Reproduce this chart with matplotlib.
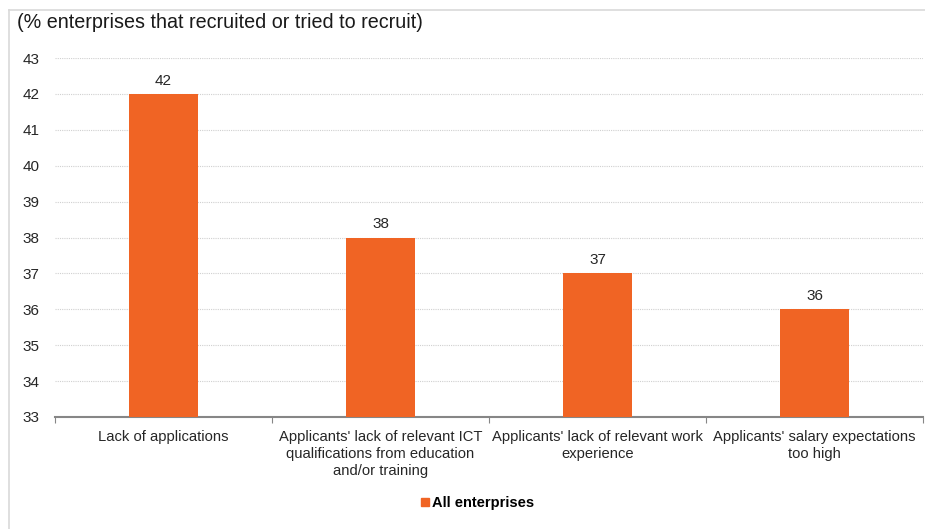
import matplotlib.pyplot as plt
import matplotlib.lines as mlines
import numpy as np

plt.rcParams['font.family'] = ['Liberation Sans', 'DejaVu Sans']

categories = ['Lack of applications',
              "Applicants' lack of relevant ICT\nqualifications from education\nand/or training",
              "Applicants' lack of relevant work\nexperience",
              "Applicants' salary expectations\ntoo high"]
values = [42, 38, 37, 36]
y_ticks = list(range(33, 44))

BAR_COLOR = '#F06424'

fig = plt.figure(figsize=(9.25, 5.29), dpi=100)
ax = fig.add_axes([55/925, 1 - 417/529, 868/925, (417 - 58)/529])

x = np.arange(len(values))
ax.bar(x, values, width=0.315, color=BAR_COLOR, zorder=3)
for xi, v in zip(x, values):
    ax.text(xi, v + 0.17, str(v), ha='center', va='bottom', fontsize=11, color='#262626')

ax.set_xlim(-0.5, len(values) - 0.5)
ax.set_ylim(33, 43)
ax.set_yticks(y_ticks)
ax.tick_params(axis='y', length=0, labelsize=11, pad=11, labelcolor='#262626')
ax.grid(axis='y', color='#D0D0D0', linestyle=(0, (1, 1)), linewidth=0.8, zorder=0)

# category labels between tick marks at the boundaries
ax.set_xticks(np.arange(-0.5, len(values)), labels=[''] * (len(values) + 1))
ax.set_xticks(x, labels=categories, minor=True, linespacing=1.3)
ax.tick_params(axis='x', which='major', length=4, color='#868686', direction='out')
ax.tick_params(axis='x', which='minor', length=0, labelsize=10.6, pad=9, labelcolor='#262626')

for side in ['left', 'right', 'top']:
    ax.spines[side].set_visible(False)
ax.spines['bottom'].set_color('#868686')
ax.spines['bottom'].set_linewidth(1.5)

fig.text(17/925, 1 - 22/529, '(% enterprises that recruited or tried to recruit)',
         fontsize=14.2, va='center', ha='left', color='#1a1a1a')

handle = mlines.Line2D([], [], color=BAR_COLOR, marker='s', linestyle='None', markersize=5.5)
fig.legend(handles=[handle], labels=['All enterprises'], loc='center',
           bbox_to_anchor=(477/925, 1 - 503/529), frameon=False,
           prop={'weight': 'bold', 'size': 10.5}, handletextpad=0.15, handlelength=0.7)

# light frame lines along the top and left edges
fig.add_artist(mlines.Line2D([9/925, 1], [1 - 10/529, 1 - 10/529], color='#D9D9D9', linewidth=1.2))
fig.add_artist(mlines.Line2D([9/925, 9/925], [0, 1 - 10/529], color='#D9D9D9', linewidth=1.2))

fig.savefig('out.png', dpi=100)
